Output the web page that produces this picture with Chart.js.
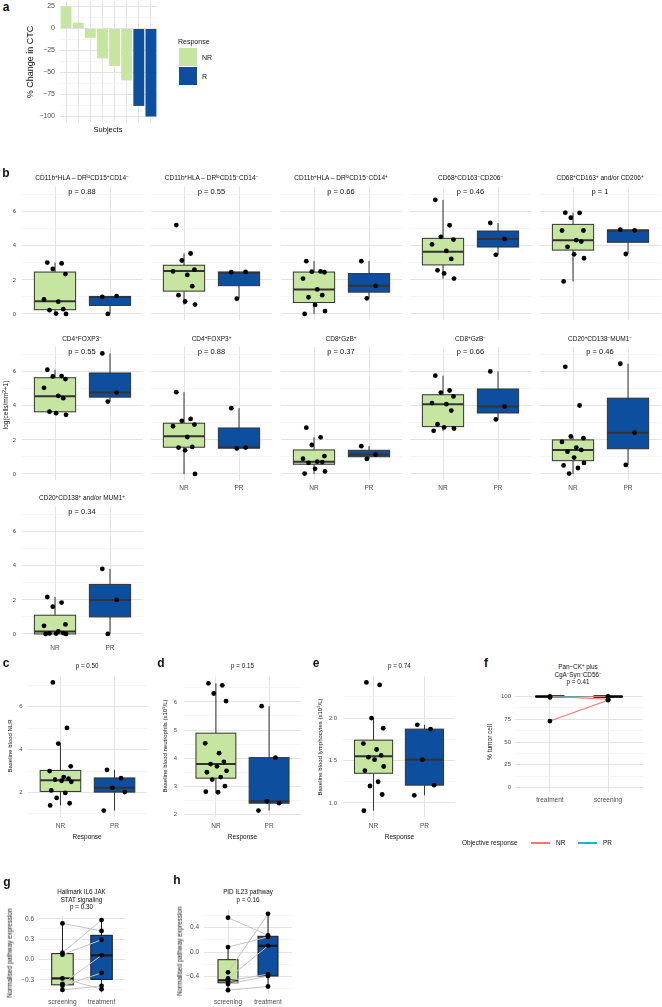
<!DOCTYPE html>
<html>
<head>
<meta charset="utf-8">
<script src="https://cdn.jsdelivr.net/npm/chart.js@4.4.1/dist/chart.umd.min.js"></script>
<style>
body{margin:0;width:662px;height:1007px;background:#fff;position:relative;overflow:hidden;font-family:'Liberation Sans',Arial,sans-serif;}
canvas{position:absolute;}
.t{position:absolute;white-space:nowrap;line-height:1;color:#111;}
.t sup{font-size:70%;vertical-align:0.45em;line-height:0;}
.sw{position:absolute;}
</style>
</head>
<body>
<script>
// ---- a: % change in CTC per subject
const aSubjects = ['S1', 'S2', 'S3', 'S4', 'S5', 'S6', 'S7', 'S8'];
const aChange = [25, 6.5, -10.6, -34, -42.5, -59, -88, -100];
const aResponse = ['NR', 'NR', 'NR', 'NR', 'NR', 'NR', 'R', 'R'];

// ---- b: log(cells/mm2+1) per marker, NR vs PR
const bTitles = [
  'CD11b<sup>+</sup>HLA – DR<sup>lo</sup>CD15<sup>+</sup>CD14<sup>−</sup>',
  'CD11b<sup>+</sup>HLA – DR<sup>lo</sup>CD15<sup>−</sup>CD14<sup>−</sup>',
  'CD11b<sup>+</sup>HLA – DR<sup>lo</sup>CD15<sup>−</sup>CD14<sup>+</sup>',
  'CD68<sup>+</sup>CD163<sup>−</sup>CD206<sup>−</sup>',
  'CD68<sup>+</sup>CD163<sup>+</sup> and/or CD206<sup>+</sup>',
  'CD4<sup>+</sup>FOXP3<sup>−</sup>',
  'CD4<sup>+</sup>FOXP3<sup>+</sup>',
  'CD8<sup>+</sup>GzB<sup>+</sup>',
  'CD8<sup>+</sup>GzB<sup>−</sup>',
  'CD20<sup>+</sup>CD138<sup>−</sup>MUM1<sup>−</sup>',
  'CD20<sup>+</sup>CD138<sup>+</sup> and/or MUM1<sup>+</sup>'
];
const bPvals = ['0.88', '0.55', '0.66', '0.46', '1', '0.55', '0.88', '0.37', '0.66', '0.46', '0.34'];
const bNR = [
  [3.02, 2.97, 2.64, 2.34, 0.85, 0.72, 0.28, 0.22, 0.02, 0.0],
  [5.22, 3.55, 3.14, 2.6, 2.5, 2.29, 1.63, 1.1, 0.73, 0.55],
  [3.1, 2.5, 2.48, 2.45, 2.08, 1.44, 1.1, 0.98, 0.53, 0.17, 0.0],
  [6.7, 5.21, 4.53, 4.37, 4.08, 3.7, 3.23, 2.56, 2.38, 2.08],
  [5.95, 5.93, 5.65, 4.9, 4.9, 4.33, 4.25, 3.94, 3.5, 3.27, 1.91],
  [6.12, 5.75, 5.73, 5.57, 5.06, 4.59, 4.45, 3.66, 3.57, 3.47],
  [4.8, 3.23, 3.12, 2.9, 2.8, 2.17, 1.59, 1.55, 1.39, 0.0],
  [2.72, 2.15, 1.7, 1.05, 0.9, 0.72, 0.7, 0.65, 0.3, 0.15, 0.02],
  [5.77, 4.9, 4.78, 4.55, 4.16, 4.1, 3.72, 2.92, 2.73, 2.67, 2.53],
  [6.29, 4.02, 2.2, 2.1, 1.88, 1.55, 1.41, 1.31, 0.96, 0.65, 0.5, 0.35, 0.02],
  [2.17, 1.84, 1.6, 0.56, 0.48, 0.15, 0.05, 0.03, 0.02, 0.0, 0.0]
];
const bPR = [
  [1.0, 1.05, 0.0],
  [2.45, 2.47, 0.9],
  [3.1, 1.65, 0.92],
  [5.34, 4.4, 3.47],
  [4.95, 4.9, 3.52],
  [7.08, 4.78, 4.25],
  [3.86, 1.55, 1.5],
  [1.63, 1.14, 0.88],
  [6.02, 3.96, 3.2],
  [6.47, 2.42, 0.53],
  [3.82, 2.0, 0.0]
];
// box stats: [lower whisker, q1, median, q3, upper whisker]
const bBoxNR = [
  [0, 0.25, 0.75, 2.46, 3.02],
  [0.55, 1.34, 2.52, 2.86, 3.55],
  [0, 0.67, 1.43, 2.46, 3.1],
  [2.08, 2.88, 3.65, 4.44, 6.7],
  [1.91, 3.75, 4.33, 5.26, 5.95],
  [3.47, 3.65, 4.57, 5.65, 6.12],
  [0, 1.57, 2.22, 2.98, 4.8],
  [0, 0.57, 0.72, 1.41, 2.15],
  [2.53, 2.78, 4.1, 4.65, 5.77],
  [0, 0.78, 1.41, 2.0, 2.2],
  [0, 0.0, 0.14, 1.1, 2.17]
];
const bBoxPR = [
  [0, 0.5, 1.0, 1.03, 1.05],
  [0.9, 1.66, 2.42, 2.46, 2.47],
  [0.92, 1.28, 1.65, 2.37, 3.1],
  [3.47, 3.93, 4.4, 4.87, 5.34],
  [3.52, 4.21, 4.9, 4.93, 4.95],
  [4.25, 4.51, 4.78, 5.93, 7.08],
  [1.5, 1.52, 1.55, 2.7, 3.86],
  [0.88, 1.01, 1.14, 1.39, 1.63],
  [3.2, 3.58, 3.96, 4.99, 6.02],
  [0.53, 1.48, 2.42, 4.45, 6.47],
  [0, 1.0, 2.0, 2.91, 3.82]
];
const responseLabels = ['NR', 'PR'];

// ---- c, d, e: baseline blood values
const nlrNR = [7.13, 5.01, 4.28, 3.22, 3.0, 2.72, 2.65, 2.6, 2.55, 2.5, 2.1, 1.98, 1.75, 1.5, 1.4];
const nlrPR = [3.06, 2.67, 2.22, 2.02, 1.16];
const nlrBoxNR = [1.4, 2.05, 2.57, 3.03, 4.28];
const nlrBoxPR = [1.16, 2.02, 2.22, 2.68, 3.06];
const neuNR = [6.66, 6.59, 6.3, 6.03, 4.53, 4.18, 3.87, 3.79, 3.71, 3.55, 3.5, 3.33, 3.24, 3.01, 2.81, 2.79];
const neuPR = [5.85, 4.02, 2.47, 2.4, 2.14];
const neuBoxNR = [2.79, 3.29, 3.79, 4.89, 6.66];
const neuBoxPR = [2.14, 2.4, 2.47, 4.02, 5.85];
const lymNR = [2.42, 2.39, 2.0, 1.88, 1.7, 1.63, 1.56, 1.54, 1.51, 1.43, 1.38, 1.25, 1.2, 1.1, 0.91];
const lymPR = [1.92, 1.87, 1.51, 1.21, 1.09];
const lymBoxNR = [0.91, 1.35, 1.55, 1.74, 2.0];
const lymBoxPR = [1.09, 1.21, 1.51, 1.87, 1.92];

// ---- f: % tumour cell, paired
const fLabels = ['treatment', 'screening'];
const fTreatment = [100, 99, 73, 100];
const fScreening = [97, 100, 96, 100];
const fResponse = ['NR', 'NR', 'NR', 'PR'];
const fBox = [100, 100, 100, 100, 100];

// ---- g, h: normalised pathway expression, paired
const ghLabels = ['screening', 'treatment'];
const gScreening = [0.53, 0.10, 0.07, -0.36, -0.39, -0.45, -0.28];
const gTreatment = [0.42, 0.58, 0.29, 0.06, -0.20, -0.39, -0.44];
const gBoxScreening = [-0.45, -0.375, -0.28, 0.085, 0.53];
const gBoxTreatment = [-0.44, -0.295, 0.06, 0.355, 0.58];
const hScreening = [0.557, 0.08, -0.33, -0.43, -0.47, -0.52, -0.62];
const hTreatment = [0.27, 0.245, 0.62, 0.1, -0.36, -0.39, -0.56];
const hBoxScreening = [-0.62, -0.5, -0.46, -0.125, 0.08];
const hBoxTreatment = [-0.56, -0.39, 0.1, 0.255, 0.62];

// ---------------------------------------------------------------
const GREEN = '#c6e5a0', BLUE = '#0d4f9e', EDGE = '#333333';
const NR_LINE = '#f0766e', PR_LINE = '#00bfc4';
const MAJ = '#e3e3e3', MIN = '#f0f0f0';
const PAD = 10;
const JIT = [-0.14, 0.12, -0.04, 0.19, -0.2, 0.06, 0.15, -0.1, 0.02, 0.2, -0.17, 0.09, -0.07, 0.17, -0.19, 0.04];
const minus = s => String(s).replace('-', '−');

Chart.defaults.font.family = "'Liberation Sans', Arial, sans-serif";
Chart.defaults.color = '#4d4d4d';

function txt(html, x, y, size, o = {}) {
  const d = document.createElement('div');
  d.className = 't';
  d.innerHTML = html;
  d.style.left = x + 'px';
  d.style.top = y + 'px';
  d.style.fontSize = size + 'px';
  if (o.bold) d.style.fontWeight = 'bold';
  if (o.color) d.style.color = o.color;
  d.style.transform = `translate(${o.left ? '0' : '-50%'},-50%)` + (o.rot ? ' rotate(-90deg)' : '');
  document.body.appendChild(d);
}
function swatch(x, y, w, h, color) {
  const d = document.createElement('div');
  d.className = 'sw';
  Object.assign(d.style, { left: x + 'px', top: y + 'px', width: w + 'px', height: h + 'px', background: color });
  document.body.appendChild(d);
}

const near = (list, v) => list.some(m => Math.abs(m - v) < 1e-6);

function yAxis(o) {
  const all = o.major.concat(o.minor);
  return {
    type: 'linear', min: o.min, max: o.max,
    afterBuildTicks: s => { s.ticks = all.map(v => ({ value: v })); },
    afterFit: s => { s.width = o.axisW; },
    ticks: {
      display: !!o.labels, autoSkip: false, padding: o.pad ?? 5, color: '#4d4d4d',
      font: { size: o.font ?? 6 },
      callback: v => near(o.major, v) ? o.fmt(v) : ''
    },
    grid: {
      drawTicks: false,
      color: c => near(o.major, c.tick.value) ? MAJ : MIN,
      lineWidth: c => near(o.major, c.tick.value) ? 1 : 0.7
    },
    border: { display: false }
  };
}
function xAxis(o) {
  return {
    type: 'linear', min: 0.4, max: 2.6,
    afterBuildTicks: s => { s.ticks = [{ value: 1 }, { value: 2 }]; },
    afterFit: s => { s.height = o.axisH; },
    ticks: {
      display: !!o.labels, autoSkip: false, maxRotation: 0, padding: o.pad ?? 4, color: '#4d4d4d',
      font: { size: o.font ?? 6.5 },
      callback: v => o.labels ? o.labels[Math.round(v) - 1] : ''
    },
    grid: { drawTicks: false, color: MAJ, lineWidth: 1 },
    border: { display: false }
  };
}

// boxes drawn under the datasets, through the chart's own scales
function boxPlugin(boxes) {
  return {
    id: 'boxes',
    beforeDatasetsDraw(chart) {
      const { ctx, scales: { x, y } } = chart;
      ctx.save();
      boxes.forEach(b => {
        const [lo, q1, md, q3, hi] = b.s;
        const xl = x.getPixelForValue(b.x - b.w / 2);
        const xr = x.getPixelForValue(b.x + b.w / 2);
        const xc = x.getPixelForValue(b.x);
        ctx.strokeStyle = b.stroke || EDGE;
        ctx.lineWidth = b.lw || 1;
        ctx.beginPath();
        ctx.moveTo(xc, y.getPixelForValue(hi)); ctx.lineTo(xc, y.getPixelForValue(q3));
        ctx.moveTo(xc, y.getPixelForValue(q1)); ctx.lineTo(xc, y.getPixelForValue(lo));
        ctx.stroke();
        const yt = y.getPixelForValue(q3), yb = y.getPixelForValue(q1);
        if (b.fill) { ctx.fillStyle = b.fill; ctx.fillRect(xl, yt, xr - xl, yb - yt); }
        ctx.strokeRect(xl, yt, xr - xl, yb - yt);
        ctx.lineWidth = b.mw || 2;
        ctx.beginPath();
        ctx.moveTo(xl, y.getPixelForValue(md)); ctx.lineTo(xr, y.getPixelForValue(md));
        ctx.stroke();
      });
      ctx.restore();
    }
  };
}

function plot(o) {
  const c = document.createElement('canvas');
  c.width = Math.round(o.axisW + o.w + 2 * PAD);
  c.height = Math.round(o.h + o.axisH + 2 * PAD);
  c.style.left = (o.left - o.axisW - PAD) + 'px';
  c.style.top = (o.top - PAD) + 'px';
  document.body.appendChild(c);
  return new Chart(c, {
    type: o.type || 'scatter',
    data: { labels: o.labels, datasets: o.datasets },
    options: {
      responsive: false, animation: false, events: [],
      layout: { padding: PAD },
      plugins: { legend: { display: false }, tooltip: { enabled: false } },
      scales: { x: o.x, y: o.y }
    },
    plugins: o.plugins || []
  });
}

const jittered = (vals, cat) => vals.map((v, i) => ({ x: cat + JIT[i % JIT.length], y: v }));
const dots = (data, r = 2.4) => ({ type: 'scatter', data, pointRadius: r, pointBackgroundColor: '#000', pointBorderWidth: 0, order: 0 });

// ---------------- panel a
plot({
  type: 'bar', left: 60.4, top: 1.2, w: 97.2, h: 121, axisW: 25, axisH: 0,
  labels: aSubjects,
  datasets: [{
    data: aChange,
    backgroundColor: aResponse.map(r => r === 'NR' ? GREEN : BLUE),
    barPercentage: 0.9, categoryPercentage: 1
  }],
  x: {
    type: 'category', offset: true,
    afterFit: s => { s.height = 0; },
    ticks: { display: false },
    grid: { offset: false, drawTicks: false, color: MAJ },
    border: { display: false }
  },
  y: yAxis({ min: -106.25, max: 31.25, major: [-100, -75, -50, -25, 0, 25], minor: [-87.5, -62.5, -37.5, -12.5, 12.5],
    labels: true, axisW: 25, font: 7, pad: 5, fmt: minus })
});
txt('a', 6, 7, 12, { bold: true });
txt('% Change in CTC', 30, 62, 9, { rot: true });
txt('Subjects', 108, 130, 7.5);
txt('Response', 178, 41, 7, { left: true });
swatch(179, 48, 18, 17.5, GREEN);
swatch(179, 67, 18, 18, BLUE);
txt('NR', 202, 57, 7, { left: true });
txt('R', 202, 76, 7, { left: true });

// ---------------- panel b (facets)
const B_LEFT = [21.5, 151, 280.5, 410, 539.5];
const B_W = 121, B_PPU = 17;
const B_ZERO = [313.3, 474, 634];
const B_STRIP = [178, 339, 498];
const B_P = [191.5, 351.5, 511.5];
bTitles.forEach((title, i) => {
  const row = Math.floor(i / 5), col = i % 5;
  const left = B_LEFT[col];
  const top = B_ZERO[row] - 7.455 * B_PPU;
  const showX = i >= 6, showY = col === 0;
  const axisW = showY ? 20 : 0;
  plot({
    left, top, w: B_W, h: 7.81 * B_PPU, axisW, axisH: showX ? 14 : 0,
    datasets: [dots(jittered(bNR[i], 1).concat(jittered(bPR[i], 2)))],
    x: xAxis({ axisH: showX ? 14 : 0, labels: showX ? responseLabels : null, pad: 4 }),
    y: yAxis({ min: -0.355, max: 7.455, major: [0, 2, 4, 6], minor: [1, 3, 5, 7], labels: showY, axisW, pad: 6, fmt: v => String(v) }),
    plugins: [boxPlugin([
      { x: 1, w: 0.75, s: bBoxNR[i], fill: GREEN },
      { x: 2, w: 0.75, s: bBoxPR[i], fill: BLUE }
    ])]
  });
  txt(title, left + B_W / 2, B_STRIP[row], 6.5);
  txt('p = ' + bPvals[i], left + B_W / 2, B_P[row], 7.5);
});
txt('b', 6, 173, 12, { bold: true });
txt('log(cells/mm<sup>2</sup>+1)', 6, 405, 6.5, { rot: true });

// ---------------- panels c, d, e
function bloodPanel(o) {
  plot({
    left: o.left, top: o.top, w: o.w, h: o.h, axisW: o.axisW, axisH: 16,
    datasets: [dots(jittered(o.nr, 1).concat(jittered(o.pr, 2)))],
    x: xAxis({ axisH: 16, labels: responseLabels, pad: 5.5 }),
    y: yAxis({ min: o.min, max: o.max, major: o.major, minor: o.minor, labels: true, axisW: o.axisW, pad: o.pad, fmt: o.fmt }),
    plugins: [boxPlugin([
      { x: 1, w: 0.75, s: o.boxNR, fill: GREEN },
      { x: 2, w: 0.75, s: o.boxPR, fill: BLUE }
    ])]
  });
  txt(o.p, o.left + o.w / 2, 665.7, 6.3);
  txt('Response', o.left + o.w / 2, 837, 6.5);
  txt(o.title, o.titleX, (o.top + o.top + o.h) / 2, 6, { rot: true });
}
bloodPanel({ left: 27.6, top: 675.9, w: 119, h: 140.5, axisW: 14, pad: 5.5, min: 0.86, max: 7.43,
  major: [2, 4, 6], minor: [1, 3, 5, 7], fmt: v => String(v),
  nr: nlrNR, pr: nlrPR, boxNR: nlrBoxNR, boxPR: nlrBoxPR, p: 'p = 0.50', title: 'Baseline blood NLR', titleX: 10 });
bloodPanel({ left: 184, top: 675.7, w: 117, h: 140.7, axisW: 14, pad: 7, min: 1.91, max: 6.9,
  major: [2, 3, 4, 5, 6], minor: [2.5, 3.5, 4.5, 5.5, 6.5], fmt: v => String(v),
  nr: neuNR, pr: neuPR, boxNR: neuBoxNR, boxPR: neuBoxPR, p: 'p = 0.15',
  title: 'Baseline blood neutrophils (x10<sup>9</sup>/L)', titleX: 164.5 });
bloodPanel({ left: 343.4, top: 676.2, w: 112, h: 141.1, axisW: 16, pad: 6, min: 0.835, max: 2.4955,
  major: [1, 1.5, 2], minor: [1.25, 1.75, 2.25], fmt: v => v.toFixed(1),
  nr: lymNR, pr: lymPR, boxNR: lymBoxNR, boxPR: lymBoxPR, p: 'p = 0.74',
  title: 'Baseline blood lymphocytes (x10<sup>9</sup>/L)', titleX: 320 });
txt('c', 6, 663, 12, { bold: true });
txt('d', 161, 663, 12, { bold: true });
txt('e', 316, 663, 12, { bold: true });

// ---------------- panel f
const fLines = fTreatment.map((t, i) => ({
  type: 'line', data: [{ x: 1, y: t }, { x: 2, y: fScreening[i] }],
  borderColor: fResponse[i] === 'NR' ? NR_LINE : PR_LINE, borderWidth: 1.1, pointRadius: 0, order: fResponse[i] === 'NR' ? 1 : 2
}));
const fDots = fTreatment.map(v => ({ x: 1, y: v })).concat(fScreening.map(v => ({ x: 2, y: v })));
plot({
  left: 514.5, top: 692.2, w: 127.5, h: 100.1, axisW: 16, axisH: 14,
  datasets: [dots(fDots)].concat(fLines),
  x: xAxis({ axisH: 14, labels: fLabels, pad: 4.5 }),
  y: yAxis({ min: -5, max: 105, major: [0, 25, 50, 75, 100], minor: [12.5, 37.5, 62.5, 87.5], labels: true, axisW: 16, pad: 4, fmt: v => String(v) }),
  plugins: [boxPlugin([
    { x: 1, w: 0.5, s: fBox, stroke: '#000', mw: 2.6 },
    { x: 2, w: 0.5, s: fBox, stroke: '#000', mw: 2.6 }
  ])]
});
txt('f', 486, 663, 12, { bold: true });
txt('Pan−CK<sup>+</sup> plus', 578, 667, 6.3);
txt('CgA<sup>−</sup>Syn<sup>−</sup>CD56<sup>−</sup>', 578, 674.5, 6.3);
txt('p = 0.41', 578, 681.5, 6.3);
txt('% tumor cell', 490, 742, 6.5, { rot: true });
txt('Objective response', 462, 843, 6.5, { left: true });
swatch(531, 842, 19, 2, NR_LINE);
txt('NR', 556, 843, 6.5, { left: true });
swatch(578, 842, 19, 2, PR_LINE);
txt('PR', 603, 843, 6.5, { left: true });

// ---------------- panels g, h
function pairedPanel(o) {
  const lines = o.scr.map((s, i) => ({
    type: 'line', data: [{ x: 1, y: s }, { x: 2, y: o.trt[i] }],
    borderColor: '#c4c4c4', borderWidth: 1, pointRadius: 0, order: 1
  }));
  const pts = o.scr.map(v => ({ x: 1, y: v })).concat(o.trt.map(v => ({ x: 2, y: v })));
  plot({
    left: o.left, top: o.top, w: o.w, h: o.h, axisW: o.axisW, axisH: 14,
    datasets: [dots(pts)].concat(lines),
    x: xAxis({ axisH: 14, labels: ghLabels, pad: 4 }),
    y: yAxis({ min: o.min, max: o.max, major: o.major, minor: o.minor, labels: true, axisW: o.axisW, pad: 5,
      font: 6.5, fmt: v => minus(v.toFixed(1)) }),
    plugins: [boxPlugin([
      { x: 1, w: o.bw, s: o.boxS, fill: GREEN, stroke: '#1a1a1a', mw: 2.2 },
      { x: 2, w: o.bw, s: o.boxT, fill: BLUE, stroke: '#1a1a1a', mw: 2.2 }
    ])]
  });
}
pairedPanel({ left: 38.6, top: 916.3, w: 85.8, h: 78, axisW: 20, min: -0.51, max: 0.64,
  major: [-0.3, 0, 0.3, 0.6], minor: [-0.45, -0.15, 0.15, 0.45], bw: 0.55,
  scr: gScreening, trt: gTreatment, boxS: gBoxScreening, boxT: gBoxTreatment });
pairedPanel({ left: 204, top: 909.6, w: 88, h: 84.2, axisW: 20, min: -0.682, max: 0.682,
  major: [-0.4, 0, 0.4], minor: [-0.6, -0.2, 0.2, 0.6], bw: 0.5,
  scr: hScreening, trt: hTreatment, boxS: hBoxScreening, boxT: hBoxTreatment });
txt('g', 7, 882, 12, { bold: true });
txt('h', 177, 880, 12, { bold: true });
txt('Hallmark IL6 JAK', 81.5, 891.7, 6.3);
txt('STAT signaling', 81.5, 899.5, 6.3);
txt('p = 0.30', 81.5, 907, 6.3);
txt('PID IL23 pathway', 248, 891.7, 6.3);
txt('p = 0.16', 248, 899.5, 6.3);
txt('Normalised pathway expression', 10, 953, 6.3, { rot: true });
txt('Normalised pathway expression', 179.5, 951, 6.3, { rot: true });
</script>
</body>
</html>
